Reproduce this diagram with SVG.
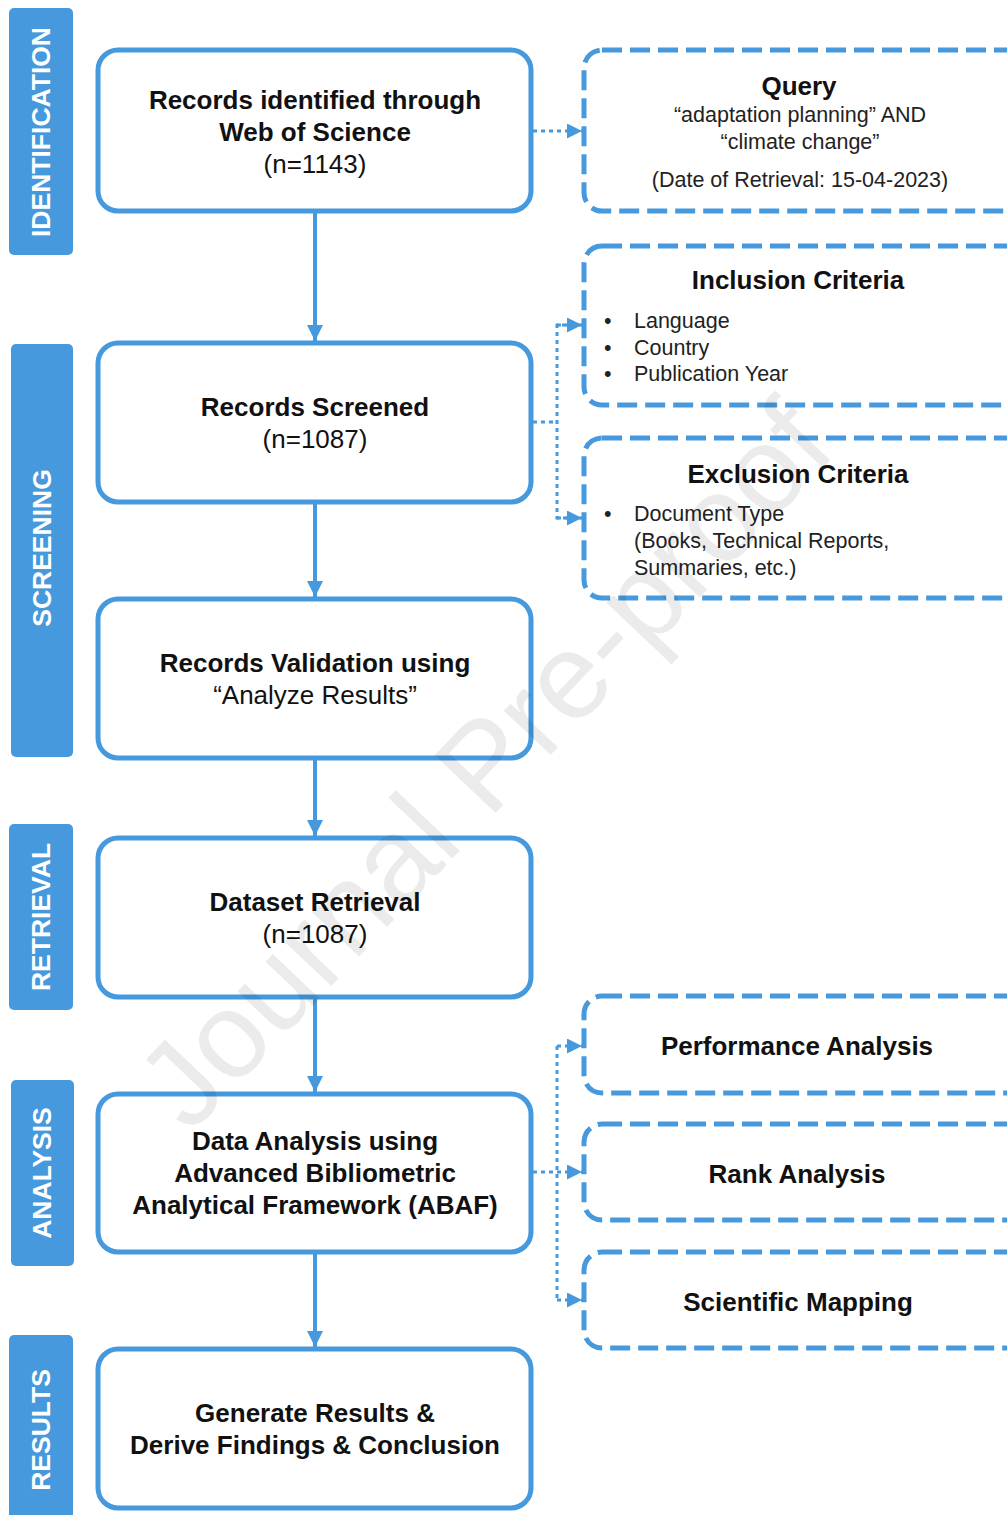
<svg xmlns="http://www.w3.org/2000/svg" width="1007" height="1515" viewBox="0 0 1007 1515">
<defs>
<style>
.bar{fill:#4699DD}
.bl{fill:#fff;font-family:"Liberation Sans",Arial,sans-serif;font-weight:bold;font-size:26.5px;text-anchor:middle}
.box{fill:#fff;stroke:#4699DD;stroke-width:5}
.dbox{fill:#fff;stroke:#4699DD;stroke-width:5;stroke-dasharray:20 8}
.t{font-family:"Liberation Sans",Arial,sans-serif;font-size:26px;fill:#111;text-anchor:middle}
.b{font-weight:bold}
.s{font-family:"Liberation Sans",Arial,sans-serif;font-size:21.5px;fill:#222}
.line{stroke:#4699DD;stroke-width:4;fill:none}
.dot{stroke:#4699DD;stroke-width:3;fill:none;stroke-dasharray:4 4}
.wm{font-family:"Liberation Sans",Arial,sans-serif;font-size:122px;fill:#000;fill-opacity:0.08}
</style>
<marker id="a" viewBox="0 0 10 10" refX="10" refY="5" markerWidth="4" markerHeight="4" orient="auto" markerUnits="strokeWidth"><path d="M0,0 L10,5 L0,10 z" fill="#4699DD"/></marker>
<marker id="ad" viewBox="0 0 10 10" refX="10" refY="5" markerWidth="5" markerHeight="5" orient="auto" markerUnits="strokeWidth"><path d="M0,0 L10,5 L0,10 z" fill="#4699DD"/></marker>
</defs>
<rect width="1007" height="1515" fill="#fff"/>

<g id="bars">
<g id="bar-identification"><rect class="bar" x="9" y="8" width="64" height="247" rx="5"/><text class="bl" transform="translate(50,132) rotate(-90)">IDENTIFICATION</text></g>
<g id="bar-screening"><rect class="bar" x="11" y="344" width="62" height="413" rx="5"/><text class="bl" transform="translate(51,548) rotate(-90)">SCREENING</text></g>
<g id="bar-retrieval"><rect class="bar" x="9" y="824" width="64" height="186" rx="5"/><text class="bl" transform="translate(50,917) rotate(-90)">RETRIEVAL</text></g>
<g id="bar-analysis"><rect class="bar" x="11" y="1080" width="63" height="186" rx="5"/><text class="bl" transform="translate(51,1173) rotate(-90)">ANALYSIS</text></g>
<g id="bar-results"><rect class="bar" x="9" y="1335" width="64" height="190" rx="5"/><text class="bl" transform="translate(50,1430) rotate(-90)">RESULTS</text></g>
</g>

<g id="connectors">
<line class="line" x1="315" y1="211" x2="315" y2="341" marker-end="url(#a)"/>
<line class="line" x1="315" y1="502" x2="315" y2="597" marker-end="url(#a)"/>
<line class="line" x1="315" y1="758" x2="315" y2="836" marker-end="url(#a)"/>
<line class="line" x1="315" y1="997" x2="315" y2="1092" marker-end="url(#a)"/>
<line class="line" x1="315" y1="1252" x2="315" y2="1347" marker-end="url(#a)"/>
<line class="dot" x1="533" y1="131" x2="582" y2="131" marker-end="url(#ad)"/>
<polyline class="dot" points="533,422 557,422"/>
<polyline class="dot" points="582,325 557,325 557,518 582,518"/>
<line class="dot" x1="557" y1="325" x2="582" y2="325" marker-end="url(#ad)"/>
<line class="dot" x1="557" y1="518" x2="582" y2="518" marker-end="url(#ad)"/>
<polyline class="dot" points="533,1172 557,1172"/>
<polyline class="dot" points="557,1046 557,1300"/>
<line class="dot" x1="557" y1="1046" x2="582" y2="1046" marker-end="url(#ad)"/>
<line class="dot" x1="557" y1="1172" x2="582" y2="1172" marker-end="url(#ad)"/>
<line class="dot" x1="557" y1="1300" x2="582" y2="1300" marker-end="url(#ad)"/>
</g>

<g id="n1"><rect class="box" x="98" y="50" width="433" height="161" rx="20"/>
<text class="t b" x="315" y="109">Records identified through</text>
<text class="t b" x="315" y="141">Web of Science</text>
<text class="t" x="315" y="173">(n=1143)</text></g>
<g id="n2"><rect class="box" x="98" y="343" width="433" height="159" rx="20"/>
<text class="t b" x="315" y="416">Records Screened</text>
<text class="t" x="315" y="448">(n=1087)</text></g>
<g id="n3"><rect class="box" x="98" y="599" width="433" height="159" rx="20"/>
<text class="t b" x="315" y="672">Records Validation using</text>
<text class="t" x="315" y="704">“Analyze Results”</text></g>
<g id="n4"><rect class="box" x="98" y="838" width="433" height="159" rx="20"/>
<text class="t b" x="315" y="911">Dataset Retrieval</text>
<text class="t" x="315" y="943">(n=1087)</text></g>
<g id="n5"><rect class="box" x="98" y="1094" width="433" height="158" rx="20"/>
<text class="t b" x="315" y="1150">Data Analysis using</text>
<text class="t b" x="315" y="1182">Advanced Bibliometric</text>
<text class="t b" x="315" y="1214">Analytical Framework (ABAF)</text></g>
<g id="n6"><rect class="box" x="98" y="1349" width="433" height="159" rx="20"/>
<text class="t b" x="315" y="1422">Generate Results &amp;</text>
<text class="t b" x="315" y="1454">Derive Findings &amp; Conclusion</text></g>

<g id="query"><rect class="dbox" x="584" y="50" width="440" height="161" rx="18"/>
<text class="t b" x="799" y="95">Query</text>
<text class="s" x="800" y="122" text-anchor="middle">“adaptation planning” AND</text>
<text class="s" x="800" y="149" text-anchor="middle">“climate change”</text>
<text class="s" x="800" y="187" text-anchor="middle">(Date of Retrieval: 15-04-2023)</text></g>
<g id="inclusion"><rect class="dbox" x="584" y="246" width="440" height="159" rx="18"/>
<text class="t b" x="798" y="289">Inclusion Criteria</text>
<text class="s" x="604" y="328">•</text><text class="s" x="634" y="328">Language</text>
<text class="s" x="604" y="355">•</text><text class="s" x="634" y="355">Country</text>
<text class="s" x="604" y="381">•</text><text class="s" x="634" y="381">Publication Year</text></g>
<g id="exclusion"><rect class="dbox" x="584" y="438" width="440" height="160" rx="18"/>
<text class="t b" x="798" y="483">Exclusion Criteria</text>
<text class="s" x="604" y="521">•</text><text class="s" x="634" y="521">Document Type</text>
<text class="s" x="634" y="548">(Books, Technical Reports,</text>
<text class="s" x="634" y="575">Summaries, etc.)</text></g>
<g id="performance"><rect class="dbox" x="584" y="996" width="440" height="97" rx="18"/>
<text class="t b" x="797" y="1055">Performance Analysis</text></g>
<g id="rank"><rect class="dbox" x="584" y="1124" width="440" height="96" rx="18"/>
<text class="t b" x="797" y="1183">Rank Analysis</text></g>
<g id="mapping"><rect class="dbox" x="584" y="1252" width="440" height="96" rx="18"/>
<text class="t b" x="798" y="1311">Scientific Mapping</text></g>

<text class="wm" transform="translate(190,1135) rotate(-46.5)">Journal Pre-proof</text>
</svg>
